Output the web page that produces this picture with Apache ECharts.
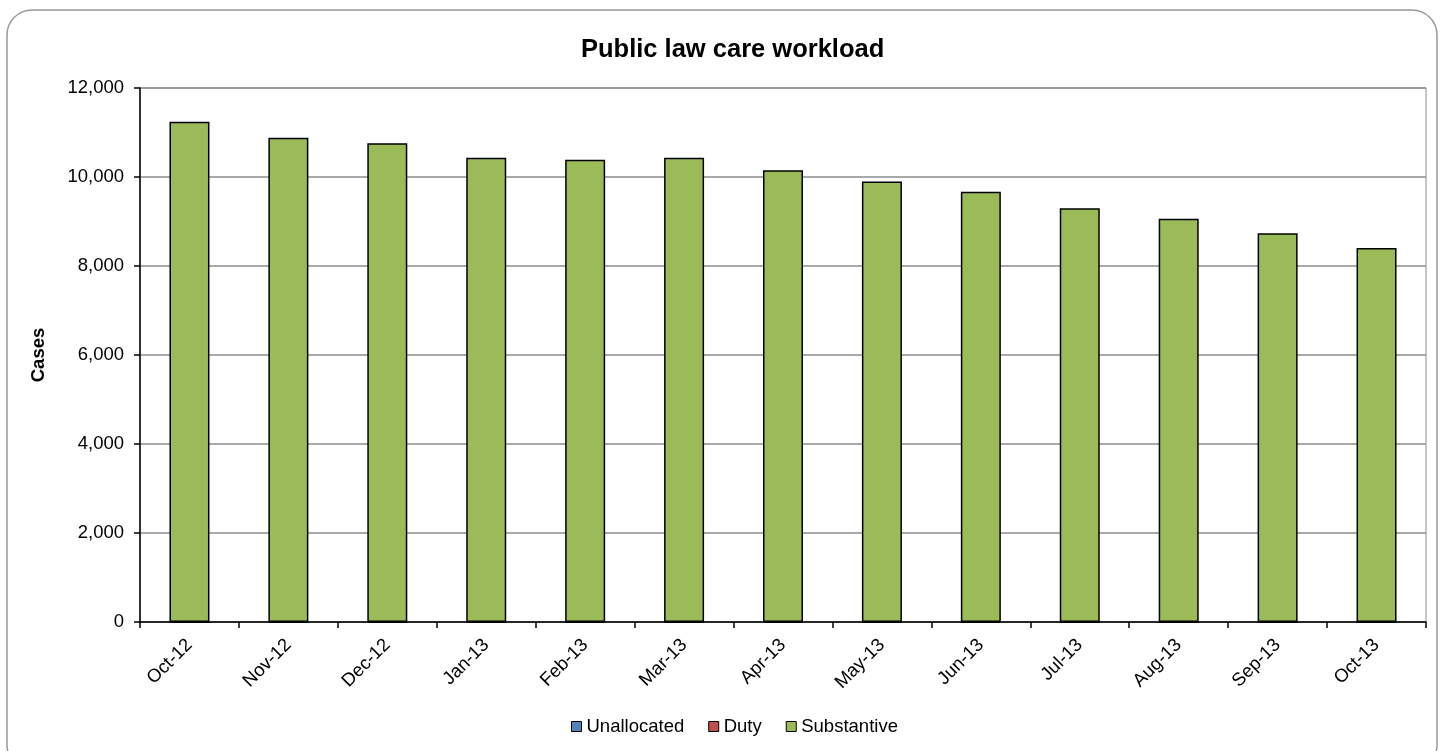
<!DOCTYPE html>
<html>
<head>
<meta charset="utf-8">
<script src="https://cdn.jsdelivr.net/npm/echarts@6/dist/echarts.min.js"></script>
<style>
html,body{margin:0;padding:0;background:#fff;}
#chart{width:1443px;height:751px;}
</style>
</head>
<body>
<div id="chart"></div>
<script>
const categories = ['Oct-12','Nov-12','Dec-12','Jan-13','Feb-13','Mar-13','Apr-13','May-13','Jun-13','Jul-13','Aug-13','Sep-13','Oct-13'];
const unallocated = [0,0,0,0,0,0,0,0,0,0,0,0,0];
const duty = [0,0,0,0,0,0,0,0,0,0,0,0,0];
const substantive = [11240,10880,10760,10430,10390,10430,10150,9900,9670,9300,9060,8735,8405];

const font = '"Liberation Sans", Arial, sans-serif';
const chart = echarts.init(document.getElementById('chart'));
function ser(name, data, color) {
  return {
    name: name, type: 'bar', stack: 'total', data: data, barWidth: 40,
    itemStyle: { color: color, borderColor: '#000', borderWidth: 1.5 },
    emphasis: { disabled: true }
  };
}
chart.setOption({
  animation: false,
  textStyle: { fontFamily: font },
  graphic: [{
    type: 'rect', silent: true, z: -10,
    shape: { x: 7, y: 10, width: 1430, height: 760, r: 25 },
    style: { fill: '#fff', stroke: '#999', lineWidth: 1.5 }
  }],
  title: {
    text: 'Public law care workload', left: 576, top: 32,
    textStyle: { fontFamily: font, fontSize: 25.5, fontWeight: 'bold', color: '#000' }
  },
  legend: {
    bottom: 10, left: 566, itemWidth: 10, itemHeight: 10, itemGap: 24,
    icon: 'rect',
    textStyle: { fontFamily: font, fontSize: 18.5, color: '#000', padding: [0,0,0,0] },
    itemStyle: { borderColor: '#000', borderWidth: 1 },
    data: ['Unallocated','Duty','Substantive']
  },
  grid: { left: 140, right: 17, top: 88, bottom: 129, show: true, borderColor: '#8c8c8c', borderWidth: 1 },
  xAxis: {
    type: 'category', data: categories,
    axisLine: { lineStyle: { color: '#000', width: 1.5 } },
    axisTick: { show: true, length: 6, lineStyle: { color: '#000', width: 1.5 } },
    axisLabel: { rotate: 45, fontFamily: font, fontSize: 18.5, color: '#000', margin: 20 }
  },
  yAxis: {
    type: 'value', min: 0, max: 12000, interval: 2000,
    name: 'Cases', nameLocation: 'middle', nameGap: 92,
    nameTextStyle: { fontFamily: font, fontSize: 18.5, fontWeight: 'bold', color: '#000' },
    axisLine: { show: true, lineStyle: { color: '#000', width: 1.5 } },
    axisTick: { show: true, length: 6, lineStyle: { color: '#000', width: 1.5 } },
    axisLabel: { fontFamily: font, fontSize: 18.5, color: '#000', margin: 16,
      formatter: v => v.toLocaleString('en-US') },
    splitLine: { lineStyle: { color: '#8c8c8c', width: 1.5 } }
  },
  series: [
    ser('Unallocated', unallocated, '#4F81BD'),
    ser('Duty', duty, '#C0504D'),
    ser('Substantive', substantive, '#9BBB59')
  ]
});
</script>
</body>
</html>
